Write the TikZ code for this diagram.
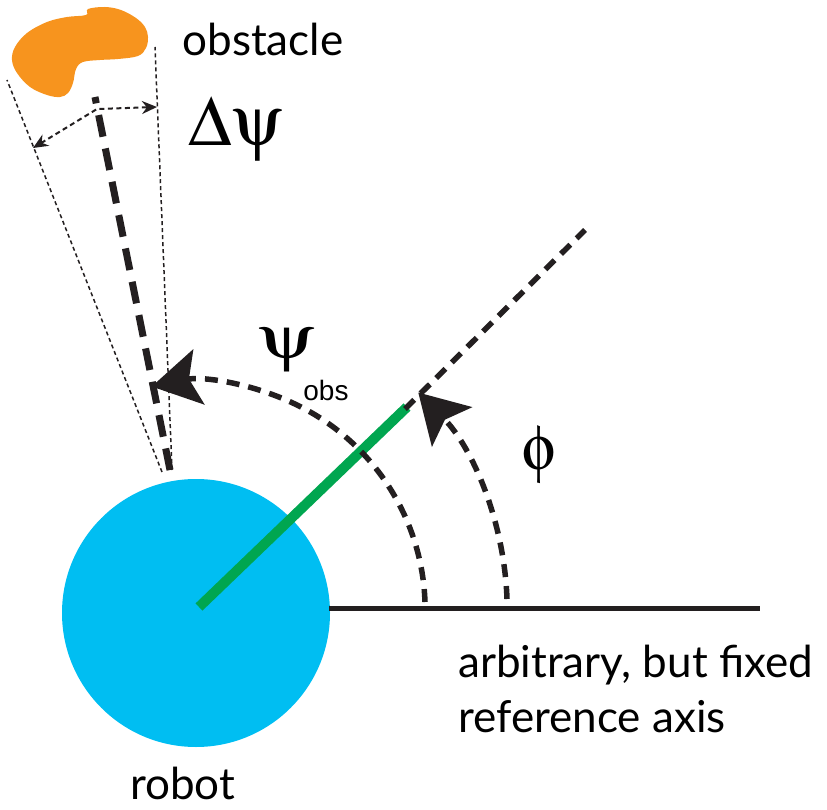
\documentclass[tikz,border=0pt]{standalone}
\usepackage{fontspec}
\setmainfont{Lato}
\newfontfamily\arialfont{Liberation Sans}
\newcommand{\symbfont}{\fontencoding{U}\fontfamily{psy}\selectfont}
\usetikzlibrary{arrows.meta}
\definecolor{robotblue}{HTML}{00BEF2}
\definecolor{headgreen}{HTML}{00A650}
\definecolor{obsorange}{HTML}{F7941E}
\definecolor{ink}{HTML}{231F20}
\begin{document}
\begin{tikzpicture}[x=1pt,y=-1pt,
  bigtip/.style={-{Stealth[length=48pt,width=56pt,inset=10pt]}},
  arcdash/.style={ink,line width=5.5pt,dash pattern=on 13pt off 9pt},
  headdash/.style={ink,line width=5.5pt,dash pattern=on 13pt off 9pt},
  obsdash/.style={ink,line width=7pt,dash pattern=on 22pt off 12pt},
  thindot/.style={ink,line width=1.5pt,dash pattern=on 4pt off 3pt},
  deltadash/.style={ink,line width=2pt,dash pattern=on 5pt off 3.5pt,
     {Stealth[length=15pt,width=13pt]}-{Stealth[length=15pt,width=13pt]}},
  lbl/.style={inner sep=0pt,font=\fontsize{44}{50}\selectfont},
  greek/.style={inner sep=0pt,font=\fontsize{64}{70}\symbfont},
  greekbig/.style={inner sep=0pt,font=\fontsize{71}{76}\symbfont},
  subl/.style={inner sep=0pt,font=\arialfont\fontsize{28}{32}\selectfont}]
\useasboundingbox (0,0) rectangle (827,810);

% robot
\node[circle,fill=robotblue,minimum size=268pt,inner sep=0pt] (robot) at (196,613) {};

% coordinates
\coordinate (ctr) at (197,610);
\coordinate (axisstart) at (329,608);
\coordinate (axisend) at (760,608);
\coordinate (greenstart) at (199,607);
\coordinate (greenend) at (407,407);
\coordinate (headstart) at (405,409);
\coordinate (headend) at (585,230);
\coordinate (obsnear) at (170,470);
\coordinate (obsfar) at (95,97);
\coordinate (lnear) at (162,472);
\coordinate (lfar) at (7,80);
\coordinate (rnear) at (172,470);
\coordinate (rfar) at (155,47);
\coordinate (dleft) at (33,148);
\coordinate (dkink) at (97,109);
\coordinate (dright) at (157,107);
\coordinate (psistart) at (425,602);
\coordinate (phistart) at (507,599);

% obstacle
\fill[obsorange] plot[smooth cycle,tension=0.6] coordinates {
 (88,9) (105,7) (121,10) (136,18) (145,27) (148,37) (146,48) (138,56)
 (118,59) (100,60) (83,62) (76,69) (73,83) (68,93) (60,97) (47,95)
 (30,87) (17,73) (12,60) (15,47) (27,33) (47,22) (67,17) (86,15)};

% obstacle direction lines
\draw[thindot] (lnear) -- (lfar);
\draw[thindot] (rnear) -- (rfar);
\draw[obsdash] (obsnear) -- (obsfar);
\draw[deltadash] (dleft) -- (dkink) -- (dright);

% reference axis and heading
\draw[ink,line width=5pt] (axisstart) -- (axisend);
\draw[headgreen,line width=10pt] (greenstart) -- (greenend);
\draw[headdash] (headstart) -- (headend);

% angle arcs
\draw[arcdash,bigtip] (psistart) arc[start angle=-2,end angle=-101.5,radius=228];
\draw[arcdash,bigtip] (phistart) arc[start angle=-2,end angle=-44.5,radius=310];

% labels
\node[lbl] (obstxt) at (263,39) {obstacle};
\node[greekbig] (dpsi) at (235,129) {Dy};
\node[greek] (psi) at (285.5,350) {\scalebox{1.25}[0.95]{y}};
\node[subl] (obs) at (326,390) {obs};
\node[greek] (phi) at (539.5,455) {f};
\node[lbl,anchor=base west] (ref1) at (458,677) {arbitrary, but fixed};
\node[lbl,anchor=base west] (ref2) at (458,732) {reference axis};
\node[lbl,anchor=base west] (robottxt) at (130,799) {robot};
\end{tikzpicture}
\end{document}
